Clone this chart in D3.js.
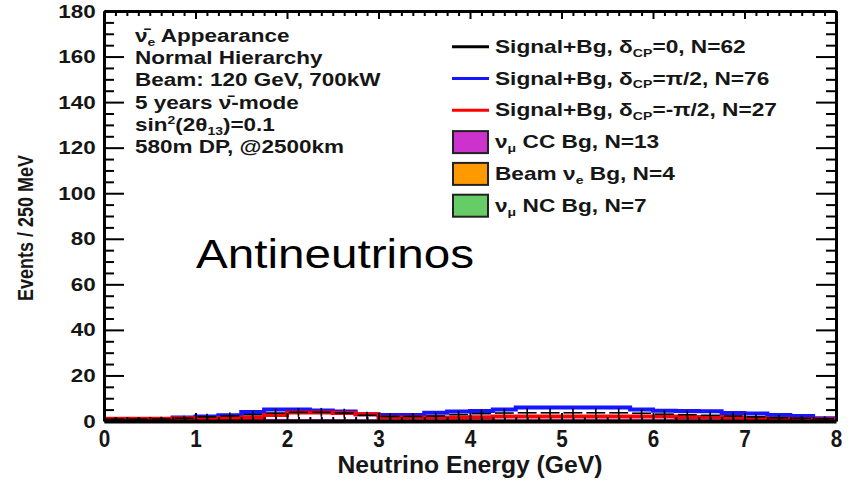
<!DOCTYPE html>
<html>
<head>
<meta charset="utf-8">
<script src="https://cdn.jsdelivr.net/npm/d3@7"></script>
<style>
body { margin: 0; background: #fff; }
svg { display: block; }
text { font-family: "Liberation Sans", Arial, Helvetica, sans-serif; fill: #161616; }
</style>
</head>
<body>
<svg id="chart" width="855" height="483"></svg>
<script>
// 250 MeV bins from 0 to 8 GeV
var binWidth = 0.25;
var binLow = d3.range(0, 8, binWidth);

// events per bin
var sigPiHalf  = [0.4,0.5,0.8,1.5,2.0,2.5,4.0,5.0,5.0,4.6,4.2,3.0,2.6,2.6,3.6,4.2,4.4,5.1,5.9,5.9,5.9,5.9,5.9,5.0,4.5,4.4,4.3,3.5,3.3,2.6,2.2,1.2];
var sigMinusPi = [1.0,1.0,1.0,1.2,1.3,1.3,1.5,2.6,3.7,3.7,3.5,3.0,1.5,1.5,1.5,1.5,1.6,2.0,2.0,2.0,2.0,2.0,2.0,2.0,2.0,1.8,1.8,1.5,1.2,1.0,0.8,0.8];
var sigZero    = [0.8,0.8,0.9,1.2,1.8,2.2,2.8,3.5,3.8,3.8,3.5,2.5,2.0,2.0,2.2,2.8,3.2,3.5,3.6,3.6,3.6,3.6,3.6,3.4,3.0,2.8,2.5,2.2,1.8,1.4,1.2,1.0];
var bgNumuNC   = [0.1,0.1,0.2,0.3,0.3,0.3,0.3,0.3,0.3,0.3,0.2,0.2,0.2,0.2,0.2,0.2,0.2,0.2,0.2,0.2,0.2,0.2,0.2,0.2,0.2,0.2,0.2,0.2,0.2,0.2,0.1,0.1];
var bgBeamNue  = [0.0,0.0,0.0,0.1,0.1,0.1,0.1,0.1,0.1,0.1,0.1,0.1,0.1,0.1,0.1,0.1,0.1,0.1,0.1,0.2,0.2,0.2,0.2,0.2,0.2,0.2,0.2,0.2,0.2,0.1,0.1,0.1];
var bgNumuCC   = [0.2,0.2,0.3,0.4,0.5,0.5,0.5,0.5,0.5,0.5,0.5,0.4,0.4,0.4,0.4,0.4,0.4,0.4,0.4,0.4,0.4,0.4,0.4,0.4,0.4,0.4,0.4,0.4,0.3,0.3,0.3,0.3];

var xTicks = [0,1,2,3,4,5,6,7,8];
var yTicks = [0,20,40,60,80,100,120,140,160,180];

var infoLines = [
  [["ν̄"],["e","sub"],[" Appearance"]],
  [["Normal Hierarchy"]],
  [["Beam: 120 GeV, 700kW"]],
  [["5 years ν̄-mode"]],
  [["sin"],["2","sup"],["(2θ"],["13","sub"],[")=0.1"]],
  [["580m DP, @2500km"]]
];
var legendLines = [
  [["Signal+Bg, δ"],["CP","sub"],["=0, N=62"]],
  [["Signal+Bg, δ"],["CP","sub"],["=π/2, N=76"]],
  [["Signal+Bg, δ"],["CP","sub"],["=-π/2, N=27"]],
  [["ν"],["μ","sub"],[" CC Bg, N=13"]],
  [["Beam ν"],["e","sub"],[" Bg, N=4"]],
  [["ν"],["μ","sub"],[" NC Bg, N=7"]]
];
var legendColors = ["#000000","#1515ff","#ff0000","#cc33cc","#ff9900","#66cc66"];

var svg = d3.select("#chart");
var x = d3.scaleLinear().domain([0, 8]).range([104, 836]);
var y = d3.scaleLinear().domain([0, 180]).range([421, 11]);

// text with sub/superscripts, stretched sideways like the original figure
function rich(parent, px, py, parts, size, sx, anchor) {
  var g = parent.append("g").attr("transform", "translate(" + px + "," + py + ") scale(" + sx + ",1)");
  var t = g.append("text").attr("font-size", size).attr("font-weight", "bold")
    .attr("text-anchor", anchor || "start");
  var shift = 0;
  parts.forEach(function (p) {
    var want = p[1] === "sub" ? size * 0.22 : p[1] === "sup" ? -size * 0.38 : 0;
    var ts = t.append("tspan").attr("dy", want - shift).text(p[0]);
    if (p[1]) ts.attr("font-size", size * 0.62);
    shift = want;
  });
  return t;
}

// stacked backgrounds
var stacks = [bgNumuNC, bgBeamNue, bgNumuCC];
var stackCols = ["#66cc66", "#ff9900", "#cc33cc"];
var base = binLow.map(function () { return 0; });
stacks.forEach(function (s, k) {
  svg.append("g").selectAll("rect").data(binLow).enter().append("rect")
    .attr("x", function (d) { return x(d); })
    .attr("width", x(binWidth) - x(0))
    .attr("y", function (d, i) { return y(base[i] + s[i]); })
    .attr("height", function (d, i) { return y(base[i]) - y(base[i] + s[i]); })
    .attr("fill", stackCols[k]);
  base = base.map(function (b, i) { return b + s[i]; });
});

function stepPts(vals) {
  var pts = binLow.map(function (d, i) { return [d, vals[i]]; });
  pts.push([8, vals[vals.length - 1]]);
  return pts;
}
var step = d3.line().x(function (d) { return x(d[0]); }).y(function (d) { return y(d[1]); })
  .curve(d3.curveStepAfter);

svg.append("path").attr("d", step(stepPts(sigPiHalf)))
  .attr("fill", "none").attr("stroke", "#1515ff").attr("stroke-width", 4);
svg.append("path").attr("d", step(stepPts(sigMinusPi)))
  .attr("fill", "none").attr("stroke", "#ff0000").attr("stroke-width", 4);

// delta_CP = 0 drawn as points with error bars
var pts = svg.append("g").attr("stroke", "#000").attr("stroke-width", 1.6);
pts.selectAll("line.h").data(binLow).enter().append("line").attr("class", "h")
  .attr("x1", function (d) { return x(d) + 2; })
  .attr("x2", function (d) { return x(d + binWidth) - 2; })
  .attr("y1", function (d, i) { return y(sigZero[i]); })
  .attr("y2", function (d, i) { return y(sigZero[i]); });
pts.selectAll("line.v").data(binLow).enter().append("line").attr("class", "v")
  .attr("x1", function (d) { return x(d + binWidth / 2); })
  .attr("x2", function (d) { return x(d + binWidth / 2); })
  .attr("y1", function (d, i) { return y(Math.max(0, sigZero[i] - Math.sqrt(sigZero[i]))); })
  .attr("y2", function (d, i) { return y(sigZero[i] + Math.sqrt(sigZero[i])); });

// axes and frame
var yMinor = d3.range(0, 181, 5).filter(function (v) { return v % 20; });
var xMinor = d3.range(0, 8.01, 0.125).filter(function (v) { return v % 1; });

function styleAxis(g, w) {
  g.select(".domain").attr("stroke", "#000").attr("stroke-width", w);
  g.selectAll(".tick line").attr("stroke", "#000").attr("stroke-width", 2);
}

var gl = svg.append("g").attr("transform", "translate(104,0)")
  .call(d3.axisLeft(y).tickValues(yTicks).tickSize(-20).tickSizeOuter(0).tickPadding(7));
styleAxis(gl, 3);
gl.selectAll(".tick text").attr("font-size", 19).attr("font-weight", "bold")
  .attr("transform", "scale(1.18,1)");
svg.append("g").attr("transform", "translate(104,0)")
  .call(d3.axisLeft(y).tickValues(yMinor).tickSize(-10).tickSizeOuter(0).tickFormat(""))
  .call(styleAxis, 0);

var gr = svg.append("g").attr("transform", "translate(836,0)")
  .call(d3.axisRight(y).tickValues(yTicks).tickSize(-20).tickSizeOuter(0).tickFormat(""));
styleAxis(gr, 3);
svg.append("g").attr("transform", "translate(836,0)")
  .call(d3.axisRight(y).tickValues(yMinor).tickSize(-10).tickSizeOuter(0).tickFormat(""))
  .call(styleAxis, 0);

var gb = svg.append("g").attr("transform", "translate(0,421)")
  .call(d3.axisBottom(x).tickValues(xTicks).tickSize(-8).tickSizeOuter(0).tickPadding(10));
styleAxis(gb, 4);
gb.selectAll(".tick text").attr("font-size", 23).attr("font-weight", "bold")
  .attr("transform", "scale(0.9,1)");
svg.append("g").attr("transform", "translate(0,421)")
  .call(d3.axisBottom(x).tickValues(xMinor).tickSize(-4).tickSizeOuter(0).tickFormat(""))
  .call(styleAxis, 0);

var gt = svg.append("g").attr("transform", "translate(0,11)")
  .call(d3.axisTop(x).tickValues(xTicks).tickSize(-8).tickSizeOuter(0).tickFormat(""));
styleAxis(gt, 3);
svg.append("g").attr("transform", "translate(0,11)")
  .call(d3.axisTop(x).tickValues(xMinor).tickSize(-5).tickSizeOuter(0).tickFormat(""))
  .call(styleAxis, 0);

// axis titles
svg.append("text").attr("transform", "translate(33,228) rotate(-90) scale(1,1.2)")
  .attr("text-anchor", "middle").attr("font-size", 18).attr("font-weight", "bold")
  .text("Events / 250 MeV");
rich(svg, 470, 473, [["Neutrino Energy (GeV)"]], 24, 1.03, "middle");

// info block
infoLines.forEach(function (parts, i) {
  rich(svg, 135, 42 + i * 22.2, parts, 18, 1.25);
});

// legend
legendLines.forEach(function (parts, i) {
  var cy = 46.7 + i * 31.8;
  if (i < 3) {
    svg.append("line").attr("x1", 452).attr("x2", 489).attr("y1", cy).attr("y2", cy)
      .attr("stroke", legendColors[i]).attr("stroke-width", 3);
  } else {
    svg.append("rect").attr("x", 453).attr("y", cy - 11).attr("width", 35).attr("height", 22)
      .attr("fill", legendColors[i]).attr("stroke", "#222").attr("stroke-width", 2);
  }
  rich(svg, 495, cy + 6, parts, 18, 1.26);
});

svg.append("text").attr("x", 196).attr("y", 268).attr("font-size", 40)
  .attr("textLength", 278).attr("lengthAdjust", "spacingAndGlyphs")
  .style("fill", "#000").text("Antineutrinos");
</script>
</body>
</html>
